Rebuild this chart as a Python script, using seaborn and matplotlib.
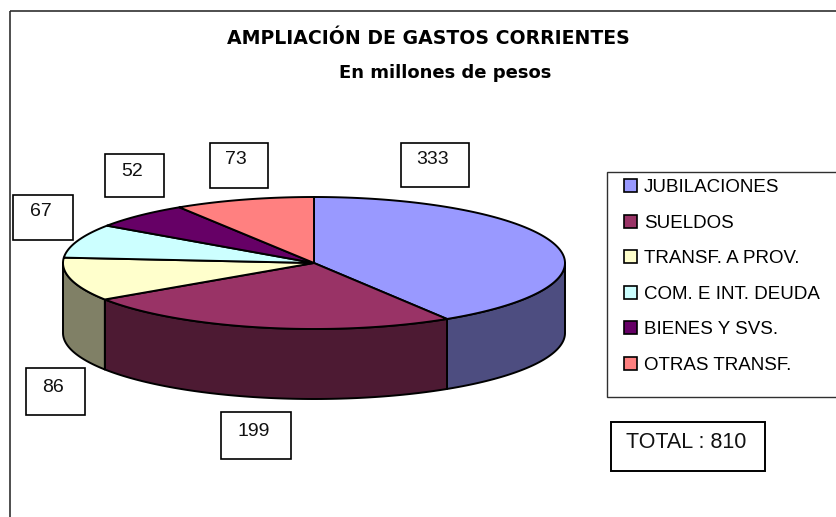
import numpy as np
import matplotlib
matplotlib.use('Agg')
import matplotlib.pyplot as plt
from matplotlib.patches import Patch, Rectangle
import seaborn as sns

sns.set_theme(style='white')
plt.rcParams['font.family'] = ['Liberation Sans', 'DejaVu Sans']

categories = ['JUBILACIONES', 'SUELDOS', 'TRANSF. A PROV.', 'COM. E INT. DEUDA', 'BIENES Y SVS.', 'OTRAS TRANSF.']
values = [333, 199, 86, 67, 52, 73]
title = 'AMPLIACIÓN DE GASTOS CORRIENTES'
subtitle = 'En millones de pesos'
total_label = 'TOTAL : 810'
colors = sns.color_palette(['#9999ff', '#993366', '#ffffcc', '#ccffff', '#660066', '#ff8080'])

# label boxes: x0, y0, x1, y1 and text centre, in image pixels
label_boxes = [(401, 143, 469, 187), (221, 412, 291, 459), (26, 368, 85, 415),
               (13, 195, 73, 240), (105, 154, 164, 197), (210, 143, 268, 188)]
label_text = [(433, 159), (254, 431), (53, 387), (41, 212), (132, 171), (236, 159)]

cx, cy, rx, ry, depth = 314, 263, 251, 66, 70

def rim(t):
    return cx + rx * np.sin(t), cy - ry * np.cos(t)

fig = plt.figure(figsize=(8.36, 5.17), dpi=100)
ax = fig.add_axes([0, 0, 1, 1])
ax.set_xlim(0, 836)
ax.set_ylim(517, 0)
ax.axis('off')

# chart frame runs off the right and bottom of the picture
ax.add_patch(Rectangle((10, 11), 900, 600, fill=False, ec='#303030', lw=1.2))

edges = np.radians(np.cumsum([0] + values) / sum(values) * 360)

# side wall first, only the front half shows
for a, b, c in zip(edges[:-1], edges[1:], colors):
    lo, hi = max(a, np.pi / 2), min(b, 3 * np.pi / 2)
    if lo >= hi:
        continue
    t = np.linspace(lo, hi, 80)
    x, y = rim(t)
    ax.fill(np.r_[x, x[::-1]], np.r_[y, y[::-1] + depth],
            color=tuple(v * 0.5 for v in c), ec='black', lw=1.4, joinstyle='round')

for a, b, c in zip(edges[:-1], edges[1:], colors):
    t = np.linspace(a, b, 120)
    x, y = rim(t)
    ax.fill(np.r_[cx, x], np.r_[cy, y], fc=c, ec='black', lw=1.4, joinstyle='round')

ax.text(428, 39, title, fontsize=13.6, fontweight='bold', family='DejaVu Sans', ha='center', va='center', color='black')
ax.text(445, 73, subtitle, fontsize=13, fontweight='bold', family='DejaVu Sans', ha='center', va='center', color='black')

for v, (x0, y0, x1, y1), (tx, ty) in zip(values, label_boxes, label_text):
    ax.add_patch(Rectangle((x0, y0), x1 - x0, y1 - y0, fc='white', ec='black', lw=1.2))
    ax.text(tx, ty, str(v), fontsize=14, ha='center', va='center', color='#111111')

# legend frame also runs off the right edge
ax.add_patch(Rectangle((607, 172), 300, 225, fc='white', ec='#303030', lw=1.0))
handles = [Patch(fc=c, ec='black', lw=1.2) for c in colors]
ax.legend(handles, categories, loc='upper left', bbox_to_anchor=(624, 179), bbox_transform=ax.transData,
          fontsize=13.5, frameon=False, borderaxespad=0, borderpad=0, labelspacing=0.98,
          handlelength=0.7, handleheight=0.7, handletextpad=0.37, labelcolor='black')

ax.add_patch(Rectangle((611, 422), 154, 49, fc='white', ec='black', lw=1.4))
ax.text(626, 443, total_label, fontsize=15.5, ha='left', va='center', color='#111111')

fig.savefig('out.png', dpi=100)
